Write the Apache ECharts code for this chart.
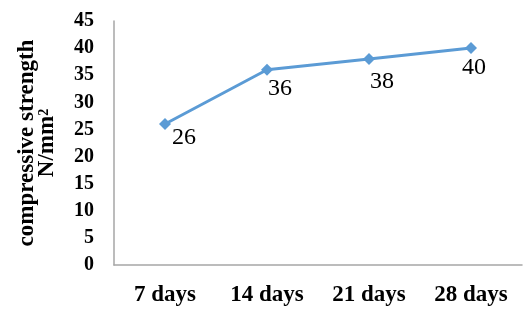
<!DOCTYPE html>
<html>
<head>
<meta charset="utf-8">
<script src="https://cdn.jsdelivr.net/npm/echarts@6/dist/echarts.min.js"></script>
<style>
  html, body { margin: 0; padding: 0; background: #fff; }
  #chart { width: 523px; height: 309px; }
</style>
</head>
<body>
<div id="chart"></div>
<script>
// categories and values
var categories = ['7 days', '14 days', '21 days', '28 days'];
var strength = [26, 36, 38, 40];
var yMin = 0, yMax = 45, yStep = 5;

var serif = '"Liberation Serif", "Times New Roman", serif';
var lineColor = '#5b9bd5';
// label nudges so the numbers sit like in the original
var labelOffsets = [[19, -6], [13, -1], [13, 3], [3, 0]];

var myChart = echarts.init(document.getElementById('chart'));

var option = {
  animation: false,
  grid: { left: 114, top: 21, width: 408, height: 244 },
  xAxis: {
    type: 'category',
    data: categories,
    boundaryGap: true,
    axisLine: { lineStyle: { color: '#a6a6a6', width: 1.5 } },
    axisTick: { show: false },
    axisLabel: {
      margin: 19,
      fontFamily: serif,
      fontWeight: 'bold',
      fontSize: 23,
      color: '#000'
    }
  },
  yAxis: {
    type: 'value',
    min: yMin,
    max: yMax,
    interval: yStep,
    splitLine: { show: false },
    axisLine: { show: true, lineStyle: { color: '#a6a6a6', width: 1.5 } },
    axisTick: { show: false },
    axisLabel: {
      margin: 20,
      fontFamily: serif,
      fontWeight: 'bold',
      fontSize: 20,
      color: '#000'
    },
    name: '{a|compressive strength}\n{a|N/mm}{s|2}',
    nameLocation: 'middle',
    nameRotate: 90,
    nameGap: 57,
    nameTextStyle: {
      lineHeight: 20,
      rich: {
        a: { fontFamily: serif, fontWeight: 'bold', fontSize: 23, color: '#000', lineHeight: 20 },
        s: { fontFamily: serif, fontWeight: 'bold', fontSize: 14, color: '#000', verticalAlign: 'top', lineHeight: 20 }
      }
    }
  },
  series: [{
    type: 'line',
    data: strength.map(function (v, i) {
      return { value: v, label: { offset: labelOffsets[i] } };
    }),
    symbol: 'diamond',
    symbolSize: 12,
    itemStyle: { color: lineColor },
    lineStyle: { color: lineColor, width: 3 },
    label: {
      show: true,
      position: 'bottom',
      distance: 2,
      fontFamily: serif,
      fontSize: 24,
      color: '#000'
    }
  }]
};

myChart.setOption(option);
</script>
</body>
</html>
